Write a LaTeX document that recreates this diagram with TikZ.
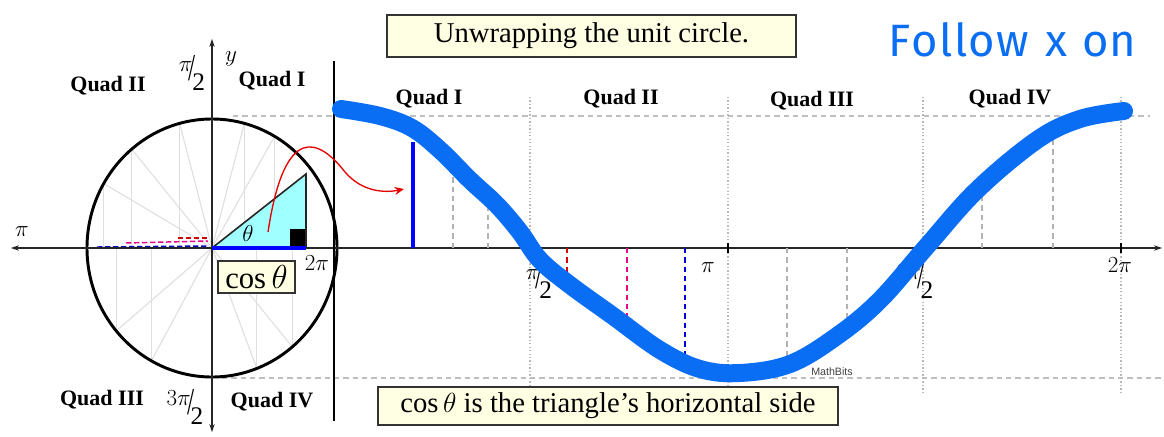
\documentclass[tikz,border=0pt]{standalone}
\usepackage{graphicx}
\usepackage{fontspec}
\setmainfont{Liberation Serif}
\newfontfamily\handfont{Fira Sans}
\newfontfamily\mbfont{Liberation Sans}
\usetikzlibrary{arrows.meta}
\definecolor{hand}{RGB}{10,110,245}
\definecolor{paleyellow}{RGB}{255,255,228}
\definecolor{tricyan}{RGB}{160,255,255}
\newcommand{\slfrac}[2]{\raisebox{0.36em}{#1}\kern-0.14em\scalebox{1}[1.5]{/}\kern-0.14em\raisebox{-0.36em}{#2}}
\begin{document}
\begin{tikzpicture}[x=0.75pt,y=-0.75pt,
  quad/.style={font=\fontsize{16.5}{16.5}\selectfont\bfseries, inner sep=0},
  lab/.style={font=\fontsize{19}{19}\selectfont, inner sep=0},
  gridline/.style={gray!55, dash pattern=on 1pt off 1.6pt, line width=0.8pt},
  hdash/.style={gray!50, dash pattern=on 4pt off 3pt, line width=0.9pt},
  vdash/.style={gray!60, dash pattern=on 4pt off 3pt, line width=0.9pt},
  spoke/.style={gray!25, line width=0.8pt},
  axis/.style={black!85, line width=0.9pt, {Stealth[length=6pt,width=4pt]}-{Stealth[length=6pt,width=4pt]}},
  tbox/.style={draw=black!80, line width=1.1pt, fill=paleyellow, inner sep=0}
]
\useasboundingbox (0,0) rectangle (1164,436);
\fill[white] (0,0) rectangle (1164,436);

% ---------- left: unit circle ----------
\coordinate (O) at (212,248);
\foreach \a in {60,75,105,130,150,220,241,291,310}{
  \draw[spoke] (O) -- ++(\a:125 and -129) coordinate (p);
  \draw[spoke] (p) -- (p |- O);
}
\coordinate (A) at (306,248);
\coordinate (B) at (306,174);
\fill[tricyan] (O) -- (A) -- (B) -- cycle;
\draw[black!85, line width=1.2pt] (O) -- (B) -- (A);
\fill[black] (290,229) rectangle (305,247);
\draw[red!80!black, dash pattern=on 4pt off 2pt, line width=1.1pt] (178,238) -- (208,238);
\draw[magenta, dash pattern=on 4pt off 2pt, line width=1.1pt] (126,243) -- (208,241);
\draw[blue!80!black, dash pattern=on 4pt off 2pt, line width=1.1pt] (97,247) -- (208,246);

\draw[hdash] (233,116) -- (1150,116);
\draw[hdash] (222,378) -- (1164,378);

\foreach \x in {530,728,923,1121}{
  \draw[gridline] (\x,97) -- (\x,395);
}

\draw[black, line width=2.2pt] (O) ellipse (125 and 129);

\node[inner sep=0] (xl) at (10,248) {};
\node[inner sep=0] (xr) at (1163,248) {};
\draw[axis] (xl) -- (xr);
\node[inner sep=0] (yt) at (212,38) {};
\node[inner sep=0] (yb) at (212,433) {};
\draw[axis] (yt) -- (yb);

\draw[blue, line width=3.5pt] (O) -- (A);

\node[inner sep=0] (dt) at (334,60) {};
\node[inner sep=0] (db) at (334,422) {};
\draw[black, line width=2pt] (dt) -- (db);

% labels left
\node[lab] (lpi) at (22,232) {$\pi$};
\node[lab] (lpi2) at (192,73) {\slfrac{$\pi$}{2}};
\node[lab] (ly) at (231,59) {$y$};
\node[quad] (q2l) at (108,86) {Quad II};
\node[quad] (q1l) at (272,81) {Quad I};
\node[quad] (q3l) at (102,400) {Quad III};
\node[quad] (q4l) at (272,402) {Quad IV};
\node[lab] (l3pi2) at (185,407) {\slfrac{$3\pi$}{2}};
\node[lab] (l2pi) at (317,263) {$2\pi$};
\node[lab] (lth) at (248,233) {$\theta$};
\node[tbox, minimum width=57.75pt, minimum height=24pt, font=\fontsize{23}{23}\selectfont] (cosb) at (256.5,277) {$\cos\theta$};

% ---------- right: graph ----------
\draw[blue, line width=3pt] (413,248) -- (413,142);
\foreach \x/\y in {453/172.5,488/205,787/364,847/323,982/190,1053/136}{
  \draw[vdash] (\x,248) -- (\x,\y);
}
\draw[red!85!black, dash pattern=on 4pt off 3pt, line width=1pt] (567,248) -- (567,286);
\draw[magenta, dash pattern=on 4pt off 3pt, line width=1pt] (627,248) -- (627,339);
\draw[blue!85!black, dash pattern=on 4pt off 3pt, line width=1pt] (685,248) -- (685,372);
\foreach \x in {728,1121}{ \draw[black, line width=1pt] (\x,243) -- (\x,253); }

\node[lab] (rpi2) at (539,281) {\slfrac{$\pi$}{2}};
\node[lab] (rpi) at (708,268) {$\pi$};
\node[lab] (r3pi2) at (915,281) {\slfrac{$3\pi$}{2}};
\node[lab] (r2pi) at (1120,265) {$2\pi$};

\node[quad] (q1) at (429,99) {Quad I};
\node[quad] (q2) at (621,99) {Quad II};
\node[quad] (q3) at (812,101) {Quad III};
\node[quad] (q4) at (1010,99) {Quad IV};

\node[font=\mbfont\fontsize{8}{8}\selectfont, text=black!75, inner sep=0] (mb) at (832,372) {MathBits};

\coordinate (rs) at (268,232);
\coordinate (re) at (404,189);
\draw[red!90!black, line width=1pt, -{Stealth[length=7pt,width=6pt]}] (rs) .. controls (285,120) and (320,140) .. (345,172) .. controls (362,192) and (385,193) .. (re);

\node[tbox, minimum width=306.75pt, minimum height=31.5pt, font=\fontsize{21.5}{21.5}\selectfont] (title) at (591.5,36) {Unwrapping the unit circle.};
\node[tbox, minimum width=345pt, minimum height=28.5pt, font=\fontsize{21.5}{21.5}\selectfont] (botb) at (608,406) {$\cos\theta$ is the triangle's horizontal side};

% ---------- handwritten overlay ----------
\draw[hand, line width=13.5pt, line cap=round, line join=round] plot[smooth, tension=0.6] coordinates {
 (341,109) (380,116) (412,128) (440,150) (470,180) (497,205) (520,232) (540,260) (570,285) (613,316) (660,350) (700,369) (740,373) (790,364) (837,336) (880,300) (927,246) (977,190) (1037,140) (1080,119) (1124,111)};
\node[font=\handfont\fontsize{34}{34}\selectfont, text=hand, anchor=west, inner sep=0] (follow) at (888,40) {F\kern1pt o\kern1pt l\kern1pt l\kern1pt o\kern1pt w\hspace{0.35em}x\hspace{0.35em}on};
\end{tikzpicture}
\end{document}
